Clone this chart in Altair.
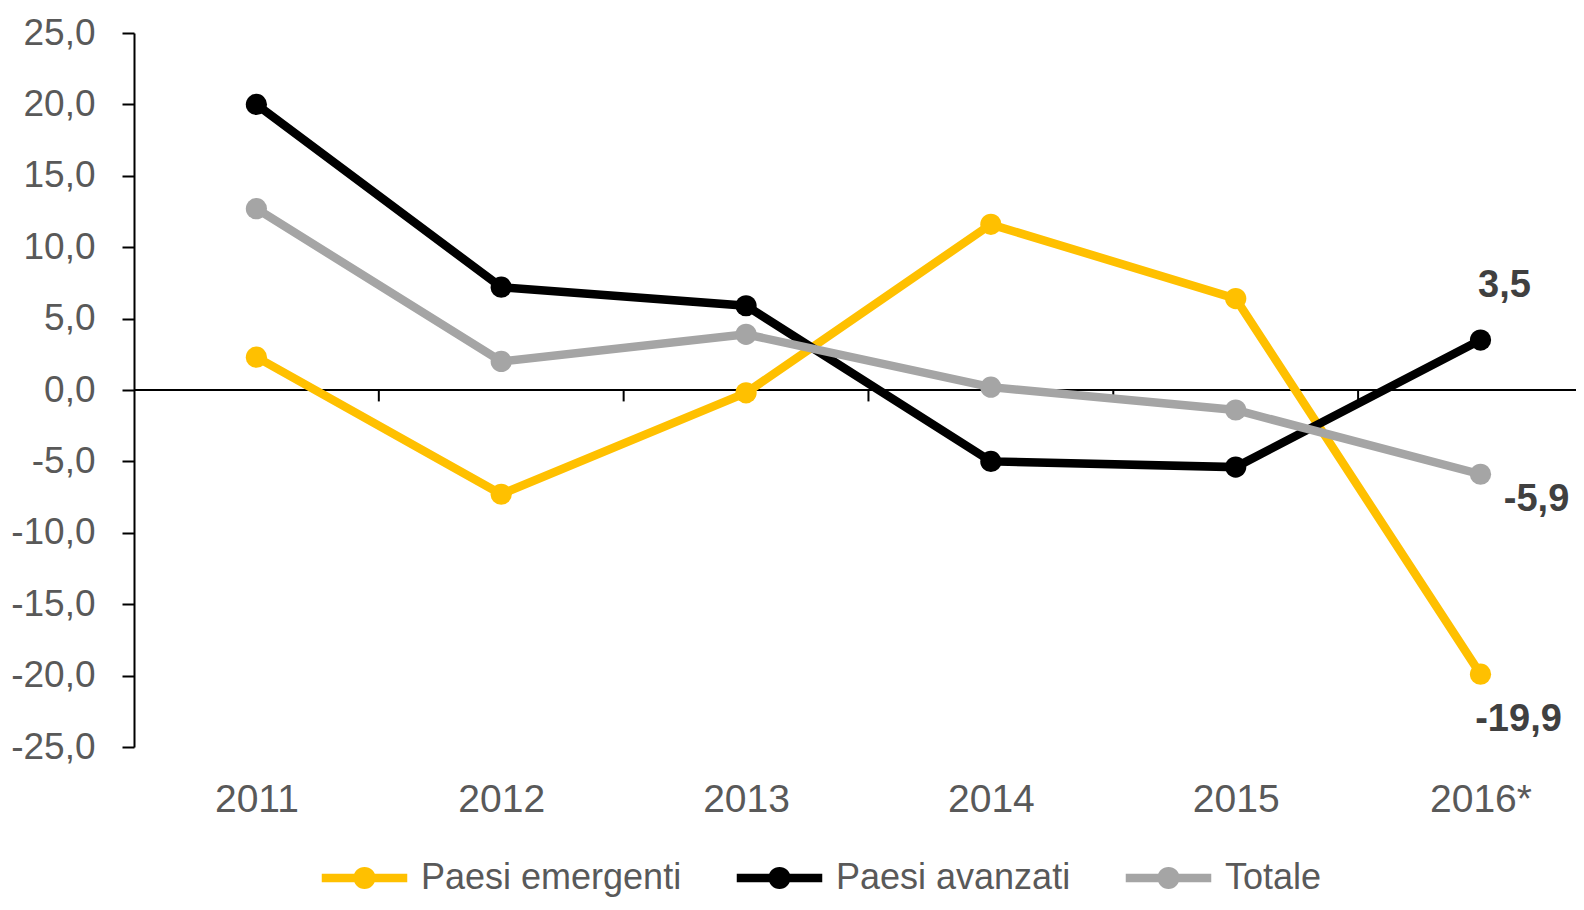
import json
import altair as alt
import pandas as pd

years = ["2011", "2012", "2013", "2014", "2015", "2016*"]
series = ["Paesi emergenti", "Paesi avanzati", "Totale"]
emergenti = [2.3, -7.3, -0.2, 11.6, 6.4, -19.9]
avanzati = [20.0, 7.2, 5.9, -5.0, -5.4, 3.5]
totale = [12.7, 2.0, 3.9, 0.2, -1.4, -5.9]
colors = ["#FFC000", "#000000", "#A5A5A5"]
y_ticks = [25, 20, 15, 10, 5, 0, -5, -10, -15, -20, -25]

FONT = "Liberation Sans, Arial, sans-serif"
GREY_TXT = "#595959"

rows = []
for s, vals in zip(series, [emergenti, avanzati, totale]):
    for i, (yr, v) in enumerate(zip(years, vals)):
        rows.append({"serie": s, "idx": i, "anno": yr, "valore": v})
df = pd.DataFrame(rows)

bounds = pd.DataFrame({"b": [i + 0.5 for i in range(len(years) - 1)]})
zero_df = pd.DataFrame({"valore": [0]})

fmt = "replace(replace(format(datum.valore, '.1f'), '.', ','), '\u2212', '-')"
label_expr_x = json.dumps(years) + "[datum.value]"

x_enc = alt.X(
    "idx:Q",
    scale=alt.Scale(domain=[-0.5, 5.39], nice=False, zero=False),
    axis=alt.Axis(
        values=list(range(len(years))), labelExpr=label_expr_x, domain=False, ticks=False,
        grid=False, title=None, labelFontSize=39, labelColor=GREY_TXT, labelFont=FONT,
        labelPadding=33,
    ),
)
y_enc = alt.Y(
    "valore:Q",
    scale=alt.Scale(domain=[-25, 25], nice=False),
    axis=alt.Axis(
        values=y_ticks,
        labelExpr="replace(replace(format(datum.value, '.1f'), '.', ','), '\u2212', '-')",
        domainColor="black", domainWidth=2, tickColor="black", tickWidth=2, tickSize=12,
        labelFontSize=37, labelColor=GREY_TXT, labelFont=FONT, labelPadding=27,
        grid=False, title=None,
    ),
)

# legend symbol: a line with a disc in the middle, drawn with a thick stroke
sym_path = ("M-0.95,0L0.95,0"
            "M0.15,0A0.15,0.15 0 1,1 -0.15,0A0.15,0.15 0 1,1 0.15,0Z")

color_scale = alt.Scale(domain=series, range=colors)
base = alt.Chart(df)

zero_rule = alt.Chart(zero_df).mark_rule(color="black", strokeWidth=2).encode(
    y=alt.Y("valore:Q", title=None)
)
tick_rules = alt.Chart(bounds).mark_rule(color="black", strokeWidth=2).encode(
    x=alt.X("b:Q", title=None), y=alt.YDatum(0, title=None), y2=alt.Y2Datum(-0.8)
)

lines = base.mark_line(strokeWidth=8.5).encode(
    x=x_enc, y=y_enc,
    color=alt.Color(
        "serie:N", scale=color_scale,
        legend=alt.Legend(
            title=None, orient="none", legendX=181, legendY=795, direction="horizontal",
            symbolType=sym_path, symbolSize=8100, symbolStrokeWidth=8.5, symbolOpacity=1,
            labelFontSize=36, labelColor=GREY_TXT, labelFont=FONT, labelLimit=1000,
            columnPadding=37, labelOffset=7,
        ),
    ),
    order="idx:Q",
)
points = base.mark_point(filled=True, size=450, opacity=1).encode(
    x=alt.X("idx:Q", title=None), y=alt.Y("valore:Q", title=None),
    color=alt.Color("serie:N", scale=color_scale),
)

def end_label(name, dx, dy):
    return base.transform_filter(
        (alt.datum.serie == name) & (alt.datum.idx == len(years) - 1)
    ).transform_calculate(lab=fmt).mark_text(
        font=FONT, fontSize=38, fontWeight="bold", color="#404040", dx=dx, dy=dy,
        align="center", baseline="middle",
    ).encode(x=alt.X("idx:Q", title=None), y=alt.Y("valore:Q", title=None), text="lab:N")

chart = alt.layer(
    zero_rule, tick_rules, lines, points,
    end_label("Paesi avanzati", 24, -54),
    end_label("Totale", 56, 26),
    end_label("Paesi emergenti", 38, 46),
).properties(
    width=1442, height=714,
    padding={"left": 126, "top": 25, "right": 0, "bottom": 155},
    autosize=alt.AutoSizeParams(type="none"),
).configure(background="white").configure_view(stroke=None)

chart.save("out.html", embed_options={"renderer": "svg", "actions": False})
